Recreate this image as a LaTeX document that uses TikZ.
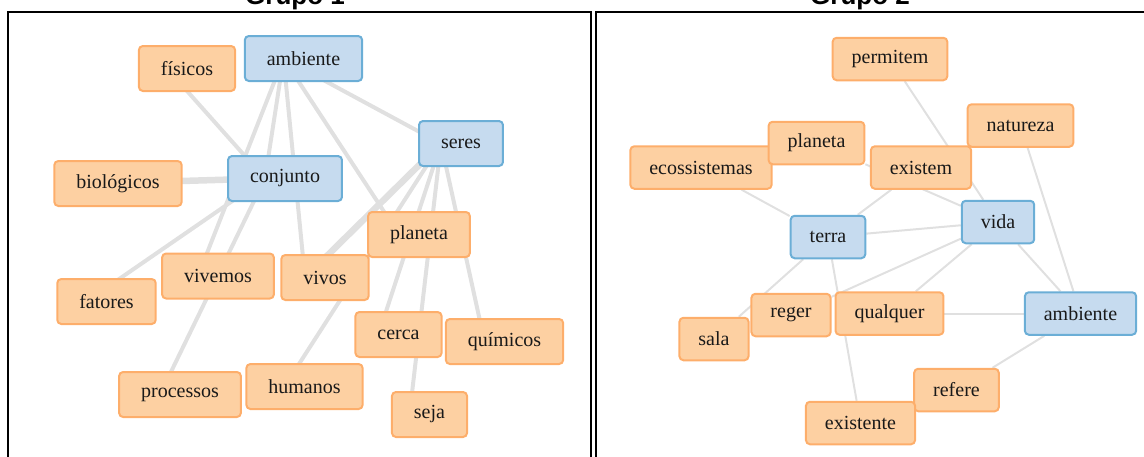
\documentclass[tikz,border=0pt]{standalone}
\usepackage{fontspec}
\newfontfamily\titlefont{Liberation Sans}
\newfontfamily\wordfont{Liberation Serif}
\usetikzlibrary{backgrounds}

\definecolor{orfill}{HTML}{FDD0A2}
\definecolor{ordraw}{HTML}{FDAE6B}
\definecolor{blfill}{HTML}{C6DBEF}
\definecolor{bldraw}{HTML}{6BAED6}
\definecolor{wiregray}{HTML}{E0E0E0}

\tikzset{
  word/.style={draw=ordraw, fill=orfill, line width=2pt, rounded corners=4pt,
    inner xsep=22pt, inner ysep=0pt, minimum height=45pt, text=black!90,
    font=\wordfont\fontsize{20}{22}\selectfont},
  hub/.style={word, draw=bldraw, fill=blfill},
  smallword/.style={word, inner xsep=19pt, minimum height=42.5pt},
  smallhub/.style={hub, inner xsep=19pt, minimum height=42.5pt},
  % Grupo 1 links sit 20px left of the box centres
  wire/.style={draw=wiregray, line width=4pt, transform canvas={xshift=-20pt}},
  thickwire/.style={wire, line width=6.5pt},
  thinwire/.style={draw=wiregray, line width=2pt},
  frame/.style={draw=black, line width=2pt},
  heading/.style={anchor=base, font=\titlefont\bfseries\fontsize{26}{28}\selectfont}
}

\begin{document}
\begin{tikzpicture}[x=1pt, y=-1pt]
    \useasboundingbox (0,0) rectangle (1144,456);

    % panels
    \node[heading] (title1) at (295,4) {Grupo 1};
    \node[heading] (title2) at (860,4) {Grupo 2};
    \draw[frame] (8,11.5) rectangle (591,500);
    \draw[frame] (596,11.5) rectangle (1160,500);

    % Grupo 1
    \node[word] (fisicos) at (187,68.5) {físicos};
    \node[hub] (amb1) at (303.5,58.5) {ambiente};
    \node[hub] (seres) at (461,143.5) {seres};
    \node[word] (biologicos) at (118,183.5) {biológicos};
    \node[hub] (conjunto) at (285,178.5) {conjunto};
    \node[word] (planeta1) at (419,234.5) {planeta};
    \node[word] (vivemos) at (218,276) {vivemos};
    \node[word] (vivos) at (325,277.5) {vivos};
    \node[word] (fatores) at (106.5,301.5) {fatores};
    \node[word] (cerca) at (398.5,334.5) {cerca};
    \node[word] (quimicos) at (504.5,341.5) {químicos};
    \node[word] (humanos) at (304.5,386.5) {humanos};
    \node[word] (processos) at (180,394.5) {processos};
    \node[word] (seja) at (429.5,414.5) {seja};

    \begin{scope}[on background layer]
        \draw[wire] (fisicos.center) -- (conjunto.center);
        \draw[thickwire] (biologicos.center) -- (conjunto.center);
        \draw[wire] (amb1.center) -- (conjunto.center);
        \draw[wire] (amb1.center) -- (vivemos.center);
        \draw[wire] (amb1.center) -- (vivos.center);
        \draw[wire] (amb1.center) -- (planeta1.center);
        \draw[wire] (amb1.center) -- (seres.center);
        \draw[wire] (conjunto.center) -- (fatores.center);
        \draw[wire] (conjunto.center) -- (processos.center);
        \draw[thickwire] (seres.center) -- (vivos.center);
        \draw[wire] (seres.center) -- (humanos.center);
        \draw[wire] (seres.center) -- (cerca.center);
        \draw[wire] (seres.center) -- (seja.center);
        \draw[wire] (seres.center) -- (quimicos.center);
    \end{scope}

    % Grupo 2
    \node[smallword] (permitem) at (890,59) {permitem};
    \node[smallword] (natureza) at (1020.5,125.5) {natureza};
    \node[smallword] (ecossistemas) at (701,167.5) {ecossistemas};
    \node[smallword] (planeta2) at (816.5,143) {planeta};
    \node[smallword] (existem) at (921,167.5) {existem};
    \node[smallhub] (vida) at (998,222) {vida};
    \node[smallhub] (terra) at (828,237) {terra};
    \node[smallword] (sala) at (714,339) {sala};
    \node[smallword] (reger) at (791,315) {reger};
    \node[smallword] (qualquer) at (889.5,313.5) {qualquer};
    \node[smallhub] (amb2) at (1080.5,313.5) {ambiente};
    \node[smallword] (refere) at (956.5,390) {refere};
    \node[smallword] (existente) at (860.5,423) {existente};

    \begin{scope}[on background layer]
        \draw[thinwire] (permitem) -- (vida);
        \draw[thinwire] (natureza) -- (amb2);
        \draw[thinwire] (ecossistemas) -- (terra);
        \draw[thinwire] (planeta2) -- (vida);
        \draw[thinwire] (existem) -- (terra);
        \draw[thinwire] (terra) -- (vida);
        \draw[thinwire] (vida) -- (reger);
        \draw[thinwire] (vida) -- (qualquer);
        \draw[thinwire] (vida) -- (amb2);
        \draw[thinwire] (terra) -- (sala);
        \draw[thinwire] (terra) -- (existente);
        \draw[thinwire] (qualquer) -- (amb2);
        \draw[thinwire] (amb2) -- (refere);
    \end{scope}
\end{tikzpicture}
\end{document}
